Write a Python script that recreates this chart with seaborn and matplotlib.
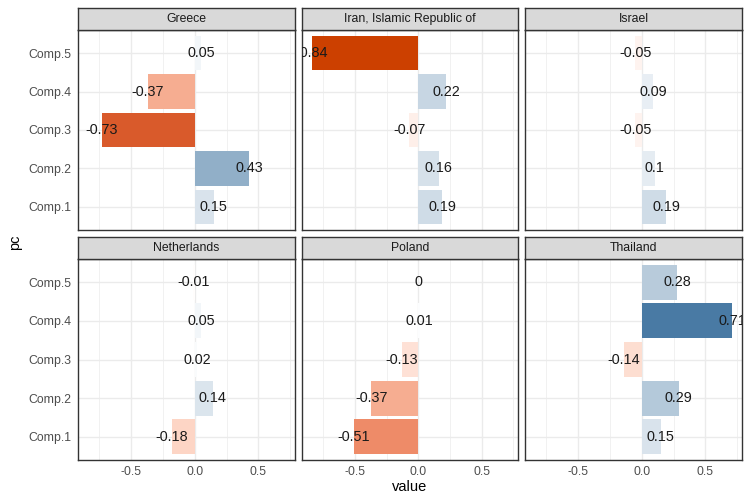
import matplotlib
matplotlib.use("Agg")
import matplotlib.pyplot as plt
import seaborn as sns
import pandas as pd
from matplotlib.colors import LinearSegmentedColormap, Normalize

countries = ["Greece", "Iran, Islamic Republic of", "Israel",
             "Netherlands", "Poland", "Thailand"]
components = ["Comp.1", "Comp.2", "Comp.3", "Comp.4", "Comp.5"]

# loadings per country, in the order of components
greece = [0.15, 0.43, -0.73, -0.37, 0.05]
iran = [0.19, 0.16, -0.07, 0.22, -0.84]
israel = [0.19, 0.10, -0.05, 0.09, -0.05]
netherlands = [-0.18, 0.14, 0.02, 0.05, -0.01]
poland = [-0.51, -0.37, -0.13, 0.01, 0.00]
thailand = [0.15, 0.29, -0.14, 0.71, 0.28]

x_ticks = [-0.5, 0.0, 0.5]
x_tick_labels = ["-0.5", "0.0", "0.5"]
x_minor = [-0.75, -0.25, 0.25, 0.75]

values = [greece, iran, israel, netherlands, poland, thailand]
rows = []
for country, vals in zip(countries, values):
    for comp, v in zip(components, vals):
        rows.append({"country": country, "pc": comp, "value": v})
df = pd.DataFrame(rows)

sns.set_style("white")
plt.rcParams["font.family"] = ["Liberation Sans", "DejaVu Sans"]

# diverging fill like scale_fill_gradient2 (white at 0, scaled by max |value|)
vmax = df["value"].abs().max()
fill_cmap = LinearSegmentedColormap.from_list("div", [
    (0.0, "#CC4000"), (0.0655, "#DA5B2D"), (0.196, "#EE8B68"),
    (0.280, "#F6AE92"), (0.393, "#FDD5C5"), (0.5, "#FFFFFF"),
    (1.0, "#296394")])
norm = Normalize(-vmax, vmax)

lo = min(df["value"].min(), 0)
hi = max(df["value"].max(), 0)
pad = 0.05 * (hi - lo)
xlim = (lo - pad, hi + pad)

order = components[::-1]

W, H = 750, 500
col_px = [(78, 295), (302, 518), (525, 742)]
panel_px = [(30, 230), (259, 460)]
strip_px = [(8, 30), (237, 259)]

fig = plt.figure(figsize=(7.5, 5), dpi=100)
fig.patch.set_facecolor("white")

for i, country in enumerate(countries):
    r, c = divmod(i, 3)
    x0, x1 = col_px[c]
    y0, y1 = panel_px[r]
    ax = fig.add_axes([x0 / W, 1 - y1 / H, (x1 - x0) / W, (y1 - y0) / H])
    sub = df[df["country"] == country]
    pal = {p: fill_cmap(norm(v)) for p, v in zip(sub["pc"], sub["value"])}
    sns.barplot(data=sub, x="value", y="pc", hue="pc", order=order,
                hue_order=order, palette=pal, orient="h", width=0.9,
                saturation=1, legend=False, linewidth=0, ax=ax, zorder=2)
    for j, p in enumerate(order):
        v = sub.loc[sub["pc"] == p, "value"].iloc[0]
        ax.text(v, j, f"{v:g}", ha="center", va="center", fontsize=10.4,
                color="#1A1A1A", clip_on=True, zorder=3)

    ax.set_xlim(*xlim)
    ax.set_ylim(len(order) - 1 + 0.6, -0.6)
    ax.set_xticks(x_ticks)
    ax.set_xticks(x_minor, minor=True)
    ax.set_xticklabels(x_tick_labels)
    ax.grid(True, which="major", color="#EBEBEB", lw=1.0, zorder=0)
    ax.grid(True, which="minor", axis="x", color="#EBEBEB", lw=0.5, zorder=0)
    ax.set_axisbelow(True)
    ax.set_xlabel("")
    ax.set_ylabel("")
    for s in ax.spines.values():
        s.set_color("#333333")
        s.set_linewidth(1.0)
    ax.tick_params(which="minor", length=0)
    ax.tick_params(which="major", length=2.6, width=0.8, color="#333333",
                   labelsize=8.8, labelcolor="#4D4D4D", pad=2)
    if r == 0:
        ax.tick_params(axis="x", length=0, labelbottom=False)
    if c > 0:
        ax.tick_params(axis="y", length=0, labelleft=False)

    s0, s1 = strip_px[r]
    sax = fig.add_axes([x0 / W, 1 - s1 / H, (x1 - x0) / W, (s1 - s0) / H])
    sax.set_xlim(0, 1)
    sax.set_ylim(0, 1)
    sax.set_xticks([])
    sax.set_yticks([])
    sax.set_facecolor("#D9D9D9")
    for s in sax.spines.values():
        s.set_color("#333333")
        s.set_linewidth(1.0)
    sax.text(0.5, 0.5, country, ha="center", va="center", fontsize=8.8,
             color="#1A1A1A")

fig.text(410 / W, 1 - 487 / H, "value", ha="center", va="center",
         fontsize=10.5, color="black")
fig.text(15 / W, 1 - 242 / H, "pc", ha="center", va="center",
         rotation=90, fontsize=10.5, color="black")

fig.savefig("out.png", dpi=100)
